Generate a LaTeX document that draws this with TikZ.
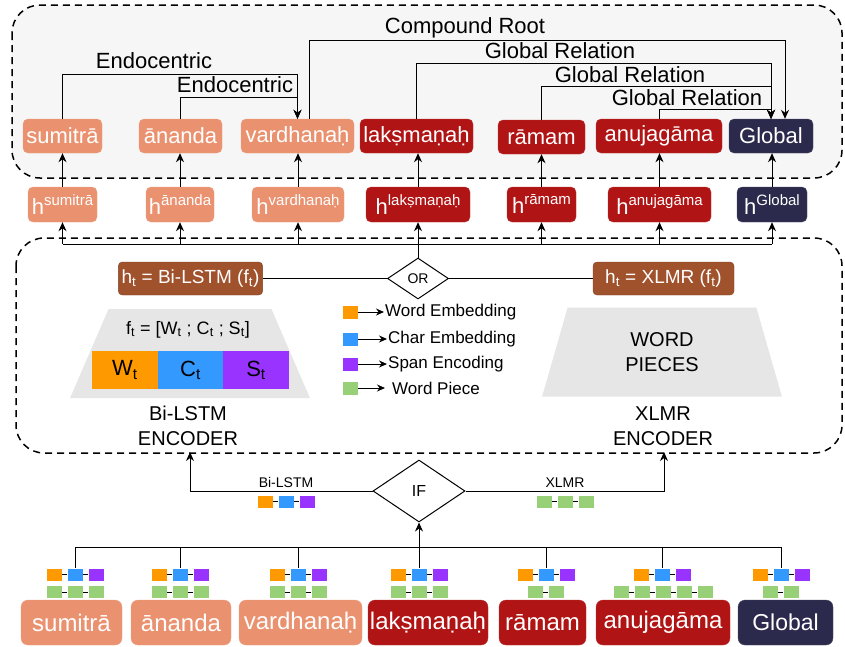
\documentclass[tikz,border=0pt]{standalone}
\usepackage{fontspec}
\setmainfont{Liberation Sans}
\usepackage{xcolor}
\definecolor{lightwordcolour}{RGB}{234,145,111}
\definecolor{darkwordcolour}{RGB}{176,20,20}
\definecolor{globalcolour}{RGB}{43,42,76}
\definecolor{encodercolour}{RGB}{160,82,45}
\definecolor{wordembcolour}{RGB}{255,153,0}
\definecolor{charembcolour}{RGB}{51,153,255}
\definecolor{spanenccolour}{RGB}{153,51,255}
\definecolor{piececolour}{RGB}{151,208,119}
\definecolor{trapcolour}{RGB}{230,230,230}
\definecolor{panelcolour}{RGB}{246,246,246}
\usetikzlibrary{shapes.geometric, arrows.meta}
\tikzstyle{topword} = [rectangle, rounded corners=5pt, minimum height=34pt, inner xsep=0pt, text=white, font=\fontsize{22}{24}\selectfont]
\tikzstyle{hidword} = [rectangle, rounded corners=5pt, minimum height=35pt, inner xsep=0pt, text=white, font=\fontsize{22}{24}\selectfont]
\tikzstyle{botword} = [rectangle, rounded corners=7pt, minimum height=45pt, inner xsep=0pt, text=white, font=\fontsize{24}{26}\selectfont]
\tikzstyle{lightword} = [fill=lightwordcolour, draw=lightwordcolour!85!white]
\tikzstyle{darkword} = [fill=darkwordcolour, draw=darkwordcolour!85!white]
\tikzstyle{globalword} = [fill=globalcolour, draw=globalcolour!85!white]
\tikzstyle{encoderbox} = [rectangle, rounded corners=4pt, minimum width=141pt, minimum height=33pt, text centered, text=white, fill=encodercolour, draw=encodercolour!80!black, font=\fontsize{19}{21}\selectfont]
\tikzstyle{decision} = [diamond, inner sep=0pt, draw=black, line width=1pt, fill=white]
\tikzstyle{trapbox} = [trapezium, trapezium stretches=true, trapezium left angle=76.7, trapezium right angle=76.7, minimum width=240pt, minimum height=89pt, fill=trapcolour, align=center, font=\fontsize{20}{25}\selectfont]
\tikzstyle{featblock} = [rectangle, minimum width=66pt, minimum height=38pt, inner sep=0pt, font=\fontsize{22}{24}\selectfont]
\tikzstyle{smallblock} = [rectangle, minimum width=16pt, minimum height=13pt, inner sep=0pt, draw=white, line width=0.5pt]
\tikzstyle{wordemb} = [smallblock, fill=wordembcolour]
\tikzstyle{charemb} = [smallblock, fill=charembcolour]
\tikzstyle{spanenc} = [smallblock, fill=spanenccolour]
\tikzstyle{piece} = [smallblock, fill=piececolour]
\tikzstyle{relation} = [anchor=base, inner sep=0pt, font=\fontsize{22}{24}\selectfont]
\tikzstyle{legendtext} = [anchor=west, inner sep=1pt, font=\fontsize{17}{19}\selectfont]
\tikzstyle{smalltext} = [anchor=base, inner sep=0pt, font=\fontsize{14}{16}\selectfont]
\tikzstyle{panel} = [dashed, dash pattern=on 7pt off 5pt, line width=1.5pt, rounded corners=28pt]
\tikzstyle{connector} = [line width=1pt]
\tikzstyle{arrow} = [line width=1pt, -{Stealth[length=9pt, width=8pt]}]
\newcommand{\hsup}[1]{h\raisebox{9pt}{\fontsize{15}{15}\selectfont #1}}

\begin{document}
\begin{tikzpicture}[x=1pt, y=-1pt]
	\useasboundingbox (0,0) rectangle (845,646);
	% dependency panel and encoder panel
	\draw[panel, fill=panelcolour] (12,5) rectangle (842,178);
	\draw[panel] (16,238) rectangle (842,453);
	% output words
	\node (top1) [topword, lightword, minimum width=79pt] at (62.5,136) {sumitrā};
	\node (top2) [topword, lightword, minimum width=83pt] at (180.5,136) {ānanda};
	\node (top3) [topword, lightword, minimum width=113pt] at (297.5,136) {vardhanaḥ};
	\node (top4) [topword, darkword, minimum width=113pt] at (416.5,136) {lakṣmaṇaḥ};
	\node (top5) [topword, darkword, minimum width=87pt] at (541.5,137) {rāmam};
	\node (top6) [topword, darkword, minimum width=126pt] at (659,136) {anujagāma};
	\node (top7) [topword, globalword, minimum width=84pt] at (771,136) {Global};
	% relations
	\node (endo1) [relation] at (154,68) {Endocentric};
	\node (endo2) [relation] at (235,92) {Endocentric};
	\node (root) [relation] at (465,33) {Compound Root};
	\node (glob1) [relation] at (560,58) {Global Relation};
	\node (glob2) [relation] at (630,82) {Global Relation};
	\node (glob3) [relation] at (687,105) {Global Relation};
	\draw [arrow] (top1.north) -- (top1.north |- 0,74) -| (top3.north);
	\draw [arrow] (top2.north) -- (top2.north |- 0,97) -| (top3.north);
	\draw [arrow] ([xshift=12pt]top3.north) -- ([xshift=12pt]top3.north |- 0,40) -| ([xshift=14pt]top7.north);
	\draw [arrow] (top4.north) -- (top4.north |- 0,63) -| (top7.north);
	\draw [arrow] (top5.north) -- (top5.north |- 0,86) -| (top7.north);
	\draw [arrow] (top6.north) -- (top6.north |- 0,109) -| (top7.north);
	% hidden states
	\node (h1) [hidword, lightword, minimum width=69pt] at (62.5,204.5) {\hsup{sumitrā}};
	\node (h2) [hidword, lightword, minimum width=68pt] at (180,204.5) {\hsup{ānanda}};
	\node (h3) [hidword, lightword, minimum width=92pt] at (298,204.5) {\hsup{vardhanaḥ}};
	\node (h4) [hidword, darkword, minimum width=104pt] at (418,204.5) {\hsup{lakṣmaṇaḥ}};
	\node (h5) [hidword, darkword, minimum width=69pt] at (541.5,204.5) {\hsup{rāmam}};
	\node (h6) [hidword, darkword, minimum width=103pt] at (659.5,204.5) {\hsup{anujagāma}};
	\node (h7) [hidword, globalword, minimum width=70pt] at (772,204.5) {\hsup{Global}};
	\draw [arrow] (h1.north) -- (h1.north |- top1.south);
	\draw [arrow] (h2.north) -- (h2.north |- top2.south);
	\draw [arrow] (h3.north) -- (h3.north |- top3.south);
	\draw [arrow] (h4.north) -- (h4.north |- top4.south);
	\draw [arrow] (h5.north) -- (h5.north |- top5.south);
	\draw [arrow] (h6.north) -- (h6.north |- top6.south);
	\draw [arrow] (h7.north) -- (h7.north |- top7.south);
	% encoder outputs
	\coordinate (bus) at (0,244);
	\node (bilstm) [encoderbox] at (190.5,278.5) {h\textsubscript{t} = Bi-LSTM (f\textsubscript{t})};
	\node (xlmr) [encoderbox] at (663.5,278.5) {h\textsubscript{t} = XLMR (f\textsubscript{t})};
	\node (or) [decision, minimum width=61pt, minimum height=41pt, font=\fontsize{14}{16}\selectfont] at (418,278.5) {OR};
	\draw [connector] (bilstm) -- (or);
	\draw [connector] (or) -- (xlmr);
	\draw [connector] (or.north) -- (or.north |- bus);
	\draw [connector] (h1.south |- bus) -- (h7.south |- bus);
	\draw [arrow] (h1.south |- bus) -- (h1.south);
	\draw [arrow] (h2.south |- bus) -- (h2.south);
	\draw [arrow] (h3.south |- bus) -- (h3.south);
	\draw [arrow] (h4.south |- bus) -- (h4.south);
	\draw [arrow] (h5.south |- bus) -- (h5.south);
	\draw [arrow] (h6.south |- bus) -- (h6.south);
	\draw [arrow] (h7.south |- bus) -- (h7.south);
	% encoders
	\node (lstmtrap) [trapbox] at (190,353.5) {};
	\node (feats) [anchor=base, inner sep=0pt, font=\fontsize{18}{20}\selectfont] at (188,334) {f\textsubscript{t} = [W\textsubscript{t} ; C\textsubscript{t} ; S\textsubscript{t}]};
	\node (wt) [featblock, fill=wordembcolour] at (125,370) {W\textsubscript{t}};
	\node (ct) [featblock, fill=charembcolour] at (190.5,370) {C\textsubscript{t}};
	\node (st) [featblock, fill=spanenccolour] at (256,370) {S\textsubscript{t}};
	\node (xlmrtrap) [trapbox] at (662,352) {WORD\\PIECES};
	\node (lstmname) [align=center, font=\fontsize{20}{25}\selectfont] at (188,426) {Bi-LSTM\\ENCODER};
	\node (xlmrname) [align=center, font=\fontsize{20}{25}\selectfont] at (663,426) {XLMR\\ENCODER};
	% legend
	\node (leg1) [wordemb, minimum height=14pt] at (350,312) {};
	\node (leg2) [charemb, minimum height=14pt] at (350,339) {};
	\node (leg3) [spanenc, minimum height=14pt] at (350,364) {};
	\node (leg4) [piece, minimum height=14pt] at (350,388) {};
	\node (legtext1) [legendtext] at (384,312) {Word Embedding};
	\node (legtext2) [legendtext] at (387,339) {Char Embedding};
	\node (legtext3) [legendtext] at (387,364) {Span Encoding};
	\node (legtext4) [legendtext] at (391,388) {Word Piece};
	\draw [arrow, -{Stealth[length=8pt, width=7pt]}] (leg1) -- (legtext1);
	\draw [arrow, -{Stealth[length=8pt, width=7pt]}] (leg2) -- (legtext2);
	\draw [arrow, -{Stealth[length=8pt, width=7pt]}] (leg3) -- (legtext3);
	\draw [arrow, -{Stealth[length=8pt, width=7pt]}] (leg4) -- ([xshift=-6pt]legtext4.west);
	% choice of encoder
	\node (if) [decision, minimum width=92pt, minimum height=62pt, font=\fontsize{16}{18}\selectfont] at (419,491) {IF};
	\coordinate (lstmin) at (190,452);
	\coordinate (xlmrin) at (664,452);
	\draw [arrow] (if.west) -| (lstmin);
	\draw [arrow] (if.east) -| (xlmrin);
	\node (lstmlabel) [smalltext] at (286,487) {Bi-LSTM};
	\node (xlmrlabel) [smalltext] at (565,487) {XLMR};
	\node (lo) [wordemb] at (265,501.5) {};
	\node (lc) [charemb] at (286,501.5) {};
	\node (ls) [spanenc] at (307,501.5) {};
	\draw [connector] (lo) -- (lc) -- (ls);
	\node (xp1) [piece] at (544,501.5) {};
	\node (xp2) [piece] at (565,501.5) {};
	\node (xp3) [piece] at (586,501.5) {};
	\draw [connector] (xp1) -- (xp2) -- (xp3);
	% input words
	\node (in1) [botword, lightword, minimum width=101pt] at (71.5,622.5) {sumitrā};
	\node (in2) [botword, lightword, minimum width=100pt] at (181,622.5) {ānanda};
	\node (in3) [botword, lightword, minimum width=123pt] at (300.5,622.5) {vardhanaḥ};
	\node (in4) [botword, darkword, minimum width=120pt] at (428,622.5) {lakṣmaṇaḥ};
	\node (in5) [botword, darkword, minimum width=87pt] at (542.5,622.5) {rāmam};
	\node (in6) [botword, darkword, minimum width=134pt] at (663,622.5) {anujagāma};
	\node (in7) [botword, globalword, minimum width=95pt, font=\fontsize{23}{25}\selectfont] at (785.5,622.5) {Global};
	% input features
	\node (o1) [wordemb] at (54,574.5) {};
	\node (c1) [charemb] at (75,574.5) {};
	\node (s1) [spanenc] at (96,574.5) {};
	\node (p11) [piece] at (54,592) {};
	\node (p12) [piece] at (75,592) {};
	\node (p13) [piece] at (96,592) {};
	\node (o2) [wordemb] at (159,574.5) {};
	\node (c2) [charemb] at (180,574.5) {};
	\node (s2) [spanenc] at (201,574.5) {};
	\node (p21) [piece] at (159,592) {};
	\node (p22) [piece] at (180,592) {};
	\node (p23) [piece] at (201,592) {};
	\node (o3) [wordemb] at (277,574.5) {};
	\node (c3) [charemb] at (298,574.5) {};
	\node (s3) [spanenc] at (319,574.5) {};
	\node (p31) [piece] at (277,592) {};
	\node (p32) [piece] at (298,592) {};
	\node (p33) [piece] at (319,592) {};
	\node (o4) [wordemb] at (398,574.5) {};
	\node (c4) [charemb] at (419,574.5) {};
	\node (s4) [spanenc] at (440,574.5) {};
	\node (p41) [piece] at (398,592) {};
	\node (p42) [piece] at (419,592) {};
	\node (p43) [piece] at (440,592) {};
	\node (o5) [wordemb] at (525,574.5) {};
	\node (c5) [charemb] at (546,574.5) {};
	\node (s5) [spanenc] at (567,574.5) {};
	\node (p51) [piece] at (535,592) {};
	\node (p52) [piece] at (556,592) {};
	\node (o6) [wordemb] at (641,574.5) {};
	\node (c6) [charemb] at (662,574.5) {};
	\node (s6) [spanenc] at (683,574.5) {};
	\node (p61) [piece] at (621,592) {};
	\node (p62) [piece] at (642,592) {};
	\node (p63) [piece] at (663,592) {};
	\node (p64) [piece] at (684,592) {};
	\node (p65) [piece] at (705,592) {};
	\node (o7) [wordemb] at (760,574.5) {};
	\node (c7) [charemb] at (781,574.5) {};
	\node (s7) [spanenc] at (802,574.5) {};
	\node (p71) [piece] at (770,592) {};
	\node (p72) [piece] at (791,592) {};
	\draw [connector] (o1) -- (c1) -- (s1);
	\draw [connector] (p11) -- (p12) -- (p13);
	\draw [connector] (o2) -- (c2) -- (s2);
	\draw [connector] (p21) -- (p22) -- (p23);
	\draw [connector] (o3) -- (c3) -- (s3);
	\draw [connector] (p31) -- (p32) -- (p33);
	\draw [connector] (o4) -- (c4) -- (s4);
	\draw [connector] (p41) -- (p42) -- (p43);
	\draw [connector] (o5) -- (c5) -- (s5);
	\draw [connector] (p51) -- (p52);
	\draw [connector] (o6) -- (c6) -- (s6);
	\draw [connector] (p61) -- (p62) -- (p63) -- (p64) -- (p65);
	\draw [connector] (o7) -- (c7) -- (s7);
	\draw [connector] (p71) -- (p72);
	% gather inputs
	\coordinate (gather) at (0,547);
	\draw [connector] (c1.north |- gather) -- (c7.north |- gather);
	\draw [connector] (c1.north) -- (c1.north |- gather);
	\draw [connector] (c2.north) -- (c2.north |- gather);
	\draw [connector] (c3.north) -- (c3.north |- gather);
	\draw [connector] (c5.north) -- (c5.north |- gather);
	\draw [connector] (c6.north) -- (c6.north |- gather);
	\draw [connector] (c7.north) -- (c7.north |- gather);
	\draw [arrow] (c4.north) -- (if.south);
\end{tikzpicture}
\end{document}
